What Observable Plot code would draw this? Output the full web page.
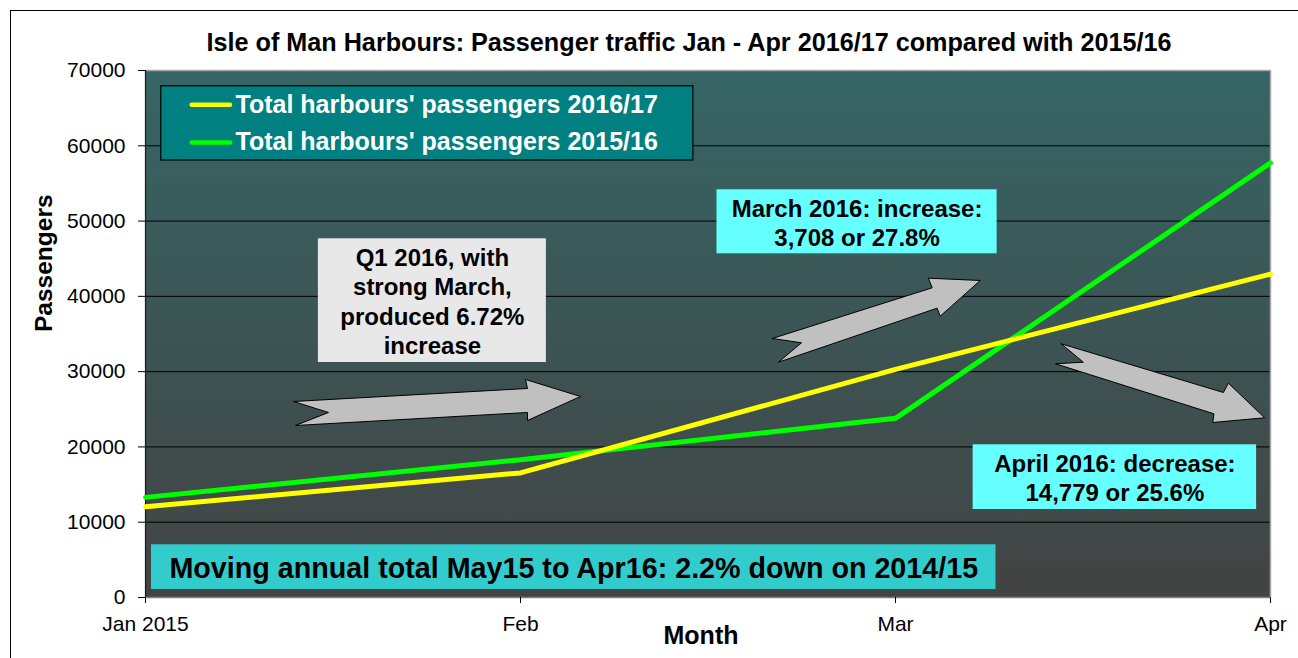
<!DOCTYPE html>
<html>
<head>
<meta charset="utf-8">
<script src="https://cdn.jsdelivr.net/npm/d3@7"></script>
<script src="https://cdn.jsdelivr.net/npm/@observablehq/plot@0.6"></script>
<style>
  html, body { margin: 0; padding: 0; background: #fff; overflow: hidden; }
  body { width: 1298px; height: 658px; position: relative; font-family: "Liberation Sans", Arial, sans-serif; }
  #frame { position: absolute; left: 10px; top: 10px; width: 1400px; height: 800px; border: 1.5px solid #000; box-sizing: border-box; }
  #chart { position: absolute; left: 0; top: 0; }
</style>
</head>
<body>
<div id="frame"></div>
<div id="chart"></div>
<script>
// ---------- data ----------
const months = ["Jan 2015", "Feb", "Mar", "Apr"];
const passengers201617 = [12050, 16550, 30300, 42950];
const passengers201516 = [13300, 18300, 23800, 57730];
const seriesNames = ["Total harbours' passengers 2016/17", "Total harbours' passengers 2015/16"];
const yTicks = [0, 10000, 20000, 30000, 40000, 50000, 60000, 70000];
const titleText = "Isle of Man Harbours: Passenger traffic Jan - Apr 2016/17 compared with 2015/16";
const noteTexts = [
  "Q1 2016, with\nstrong March,\nproduced 6.72%\nincrease",
  "March 2016: increase:\n3,708 or 27.8%",
  "April 2016: decrease:\n14,779 or 25.6%",
  "Moving annual total May15 to Apr16: 2.2% down on 2014/15"
];

// ---------- derived tables ----------
const rows = [];
months.forEach((m, i) => {
  rows.push({i, value: passengers201617[i], series: seriesNames[0]});
  rows.push({i, value: passengers201516[i], series: seriesNames[1]});
});
const colors = {[seriesNames[0]]: "#ffff00", [seriesNames[1]]: "#00ff00"};

// ---------- annotation layout (in data coordinates) ----------
const noteLayout = [
  {x1: 0.461, x2: 1.069, y1: 31215, y2: 47646, fill: "#e8e8e8", size: 24},
  {x1: 1.524, x2: 2.271, y1: 45653, y2: 54155, fill: "#66ffff", size: 24},
  {x1: 2.207, x2: 2.963, y1: 11689, y2: 20283, fill: "#66ffff", size: 24},
  {x1: 0.016, x2: 2.268, y1: 1063, y2: 7000, fill: "#33cccc", size: 28.7}
];
const notes = noteTexts.map((t, k) => ({text: t, ...noteLayout[k]}));

const arrowShapes = [
  [[0.3947, 26035], [1.0187, 27761], [1.0133, 28957], [1.16, 26699], [1.0187, 23511], [1.0187, 24574], [0.4, 22847], [0.488, 24574]],
  [[1.6715, 34403], [2.0979, 41138], [2.0877, 42413], [2.2261, 42107], [2.1192, 37365], [2.1109, 38428], [1.688, 31255], [1.7493, 33832]],
  [[2.4419, 33699], [2.8744, 27230], [2.8877, 28465], [2.9843, 23870], [2.8459, 23245], [2.8491, 24401], [2.4267, 31043], [2.5008, 31255]]
];
const arrowPts = [];
arrowShapes.forEach((pts, id) => {
  [...pts, pts[0]].forEach(([x, y]) => arrowPts.push({id, x, y}));
});

const legendBox = {x1: 0.042, x2: 1.461, y1: 58050, y2: 67900};
const legendRows = seriesNames.map((s, k) => ({series: s, y: k === 0 ? 65450 : 60450}));
const legendLine = {x1: 0.1245, x2: 0.2267, xText: 0.24};

// ---------- background gradient mark ----------
function gradientBackground(index, scales, values, dim) {
  const g = d3.create("svg:g");
  const grad = g.append("defs").append("linearGradient")
    .attr("id", "plotbg").attr("x1", 0).attr("y1", 0).attr("x2", 0).attr("y2", 1);
  grad.append("stop").attr("offset", "0%").attr("stop-color", "#366565");
  grad.append("stop").attr("offset", "100%").attr("stop-color", "#434343");
  g.append("rect")
    .attr("x", dim.marginLeft).attr("y", dim.marginTop)
    .attr("width", dim.width - dim.marginLeft - dim.marginRight)
    .attr("height", dim.height - dim.marginTop - dim.marginBottom)
    .attr("fill", "url(#plotbg)");
  return g.node();
}

const FONT = "Liberation Sans, Arial, sans-serif";

const chart = Plot.plot({
  width: 1298,
  height: 658,
  marginLeft: 145,
  marginRight: 28,
  marginTop: 70,
  marginBottom: 61,
  style: {fontFamily: FONT, background: "transparent", overflow: "visible", color: "#000"},
  x: {domain: [0, 3], axis: null},
  y: {domain: [0, 70000], axis: null},
  marks: [
    gradientBackground,
    Plot.gridY(yTicks.filter(d => d > 0 && d < 70000), {stroke: "#000", strokeOpacity: 1, strokeWidth: 1}),
    Plot.ruleY([70000], {stroke: "#a6a6a6", strokeWidth: 1.5}),
    Plot.ruleX([3], {stroke: "#a6a6a6", strokeWidth: 1.5}),
    Plot.ruleY([0], {stroke: "#808080", strokeWidth: 1.5}),
    Plot.ruleX([0], {stroke: "#1a1a1a", strokeWidth: 1.2}),
    // data lines
    Plot.line(rows.filter(d => d.series === seriesNames[1]), {x: "i", y: "value", stroke: colors[seriesNames[1]], strokeWidth: 5, strokeLinejoin: "miter"}),
    Plot.line(rows.filter(d => d.series === seriesNames[0]), {x: "i", y: "value", stroke: colors[seriesNames[0]], strokeWidth: 5, strokeLinejoin: "miter"}),
    // annotation boxes and arrows
    Plot.rect(notes, {x1: "x1", x2: "x2", y1: "y1", y2: "y2", fill: "fill"}),
    Plot.text(notes, {
      x: d => (d.x1 + d.x2) / 2, y: d => (d.y1 + d.y2) / 2, text: "text",
      fontSize: d => d.size, fontWeight: "bold", fill: "#000", lineHeight: 1.22, textAnchor: "middle", lineAnchor: "middle"
    }),
    Plot.line(arrowPts, {x: "x", y: "y", z: "id", fill: "#c0c0c0", stroke: "#000", strokeWidth: 1, strokeLinejoin: "miter"}),
    // legend
    Plot.rect([legendBox], {x1: "x1", x2: "x2", y1: "y1", y2: "y2", fill: "#008080", stroke: "#000", strokeWidth: 1.2}),
    Plot.ruleY(legendRows, {y: "y", x1: legendLine.x1, x2: legendLine.x2, stroke: d => colors[d.series], strokeWidth: 4.5, strokeLinecap: "round"}),
    Plot.text(legendRows, {x: legendLine.xText, y: "y", text: "series", fill: "#fff", fontSize: 25, fontWeight: "bold", textAnchor: "start", lineAnchor: "middle"}),
    // axes
    Plot.axisY({ticks: yTicks, tickFormat: d => String(d), tickSize: 7, tickPadding: 13, fontSize: 21, label: null, stroke: "#000"}),
    Plot.axisX({ticks: [0, 1, 2, 3], tickFormat: i => months[i], tickSize: 6, tickPadding: 13, fontSize: 21, label: null, stroke: "#000"}),
    // titles
    Plot.text([titleText], {frameAnchor: "top", dx: -19, dy: -28, fontSize: 25.2, fontWeight: "bold", fill: "#000", lineAnchor: "middle"}),
    Plot.text(["Month"], {frameAnchor: "bottom", dx: -7, dy: 38, fontSize: 25, fontWeight: "bold", fill: "#000", lineAnchor: "middle"}),
    Plot.text(["Passengers"], {frameAnchor: "left", dx: -101, dy: -2, rotate: -90, fontSize: 24.5, fontWeight: "bold", fill: "#000", lineAnchor: "middle"})
  ]
});
document.getElementById("chart").appendChild(chart);
</script>
</body>
</html>
